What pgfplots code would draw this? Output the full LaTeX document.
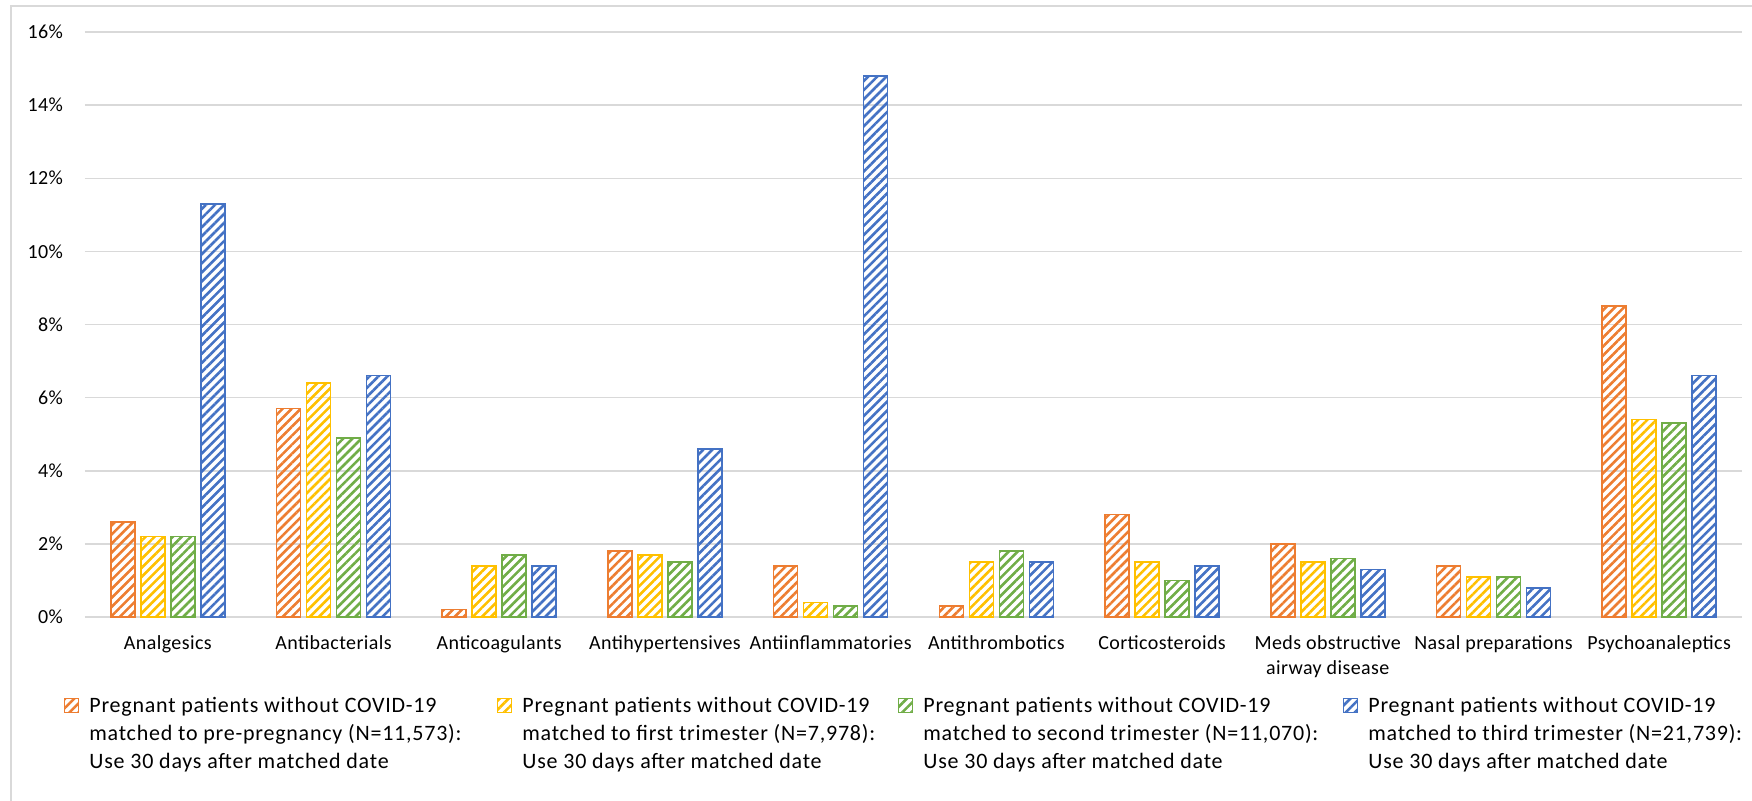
\documentclass[border=0pt]{standalone}
\usepackage{pgfplots}
\pgfplotsset{compat=1.18}
\usetikzlibrary{patterns.meta}
\usepackage{fontspec}
\setmainfont{Carlito}
\newfontfamily\legfont{Carlito}[LetterSpace=3.5]
\newfontfamily\tickfont{Carlito}[LetterSpace=2]
\definecolor{cOr}{HTML}{ED7D31}
\definecolor{cYe}{HTML}{FFC000}
\definecolor{cGr}{HTML}{70AD47}
\definecolor{cBl}{HTML}{4472C4}
\definecolor{gridgray}{HTML}{D9D9D9}
\tikzset{stripes/.style={draw=#1, line width=0.8pt,
  pattern={Lines[angle=45,distance=3.2pt,line width=1.3pt]}, pattern color=#1}}
\begin{document}
\begin{tikzpicture}
\begin{axis}[name=ax,
  width=828.5pt, height=292.5pt, scale only axis,
  ybar=3pt, bar width=12pt,
  xmin=-0.5, xmax=9.5, ymin=0, ymax=16,
  xtick={0,...,9},
  xticklabels={Analgesics,Antibacterials,Anticoagulants,Antihypertensives,Antiinflammatories,Antithrombotics,Corticosteroids,{Meds obstructive\\airway disease},Nasal preparations,Psychoanaleptics},
  xticklabel style={align=center, font=\tickfont\fontsize{10}{12.5}\selectfont, yshift=-6pt},
  ytick={0,2,...,16},
  yticklabel={\pgfmathprintnumber{\tick}\%},
  yticklabel style={font=\tickfont\fontsize{10}{11}\selectfont, xshift=-7.5pt},
  /pgf/number format/assume math mode=true,
  major tick length=0pt,
  ymajorgrids, grid style={draw=gridgray, line width=0.75pt},
  axis x line*=bottom, axis y line*=left,
  x axis line style={-, draw=gridgray, line width=0.75pt},
  y axis line style={draw=none},
  legend columns=4,
  legend cell align=left,
  legend image code/.code={\draw[#1, line width=0.5pt] (0pt,0pt) rectangle (7pt,7pt);},
  legend style={draw=none, inner sep=0pt, at={(0,0)}, anchor=north west,
    xshift=-10.5pt, yshift=-35.7pt,
    font=\legfont\fontsize{11}{14}\selectfont,
    cells={anchor=base west, inner sep=0pt},
    /tikz/every odd column/.append style={column sep=3pt},
    /tikz/every even column/.append style={column sep=0pt}},
]
\addplot[stripes=cOr] coordinates {(0,2.6)(1,5.7)(2,0.2)(3,1.8)(4,1.4)(5,0.3)(6,2.8)(7,2.0)(8,1.4)(9,8.5)};
\addplot[stripes=cYe] coordinates {(0,2.2)(1,6.4)(2,1.4)(3,1.7)(4,0.4)(5,1.5)(6,1.5)(7,1.5)(8,1.1)(9,5.4)};
\addplot[stripes=cGr] coordinates {(0,2.2)(1,4.9)(2,1.7)(3,1.5)(4,0.3)(5,1.8)(6,1.0)(7,1.6)(8,1.1)(9,5.3)};
\addplot[stripes=cBl] coordinates {(0,11.3)(1,6.6)(2,1.4)(3,4.6)(4,14.8)(5,1.5)(6,1.4)(7,1.3)(8,0.8)(9,6.6)};
\addlegendentry{\makebox[202pt][l]{\begin{tabular}[t]{@{}l@{}}Pregnant patients without COVID-19\\matched to pre-pregnancy (N=11,573):\\Use 30 days after matched date\end{tabular}}}
\addlegendentry{\makebox[186pt][l]{\begin{tabular}[t]{@{}l@{}}Pregnant patients without COVID-19\\matched to first trimester (N=7,978):\\Use 30 days after matched date\end{tabular}}}
\addlegendentry{\makebox[208pt][l]{\begin{tabular}[t]{@{}l@{}}Pregnant patients without COVID-19\\matched to second trimester (N=11,070):\\Use 30 days after matched date\end{tabular}}}
\addlegendentry{\begin{tabular}[t]{@{}l@{}}Pregnant patients without COVID-19\\matched to third trimester (N=21,739):\\Use 30 days after matched date\end{tabular}}
\end{axis}
\pgfresetboundingbox
\path[use as bounding box] ([shift={(-42.5pt,-91.5pt)}]ax.south west) rectangle ([shift={(833.5pt,308.5pt)}]ax.south west);
\draw[gridgray, line width=0.75pt] ([shift={(-37pt,-200pt)}]ax.south west) rectangle ([shift={(900pt,305.5pt)}]ax.south west);
\end{tikzpicture}
\end{document}
